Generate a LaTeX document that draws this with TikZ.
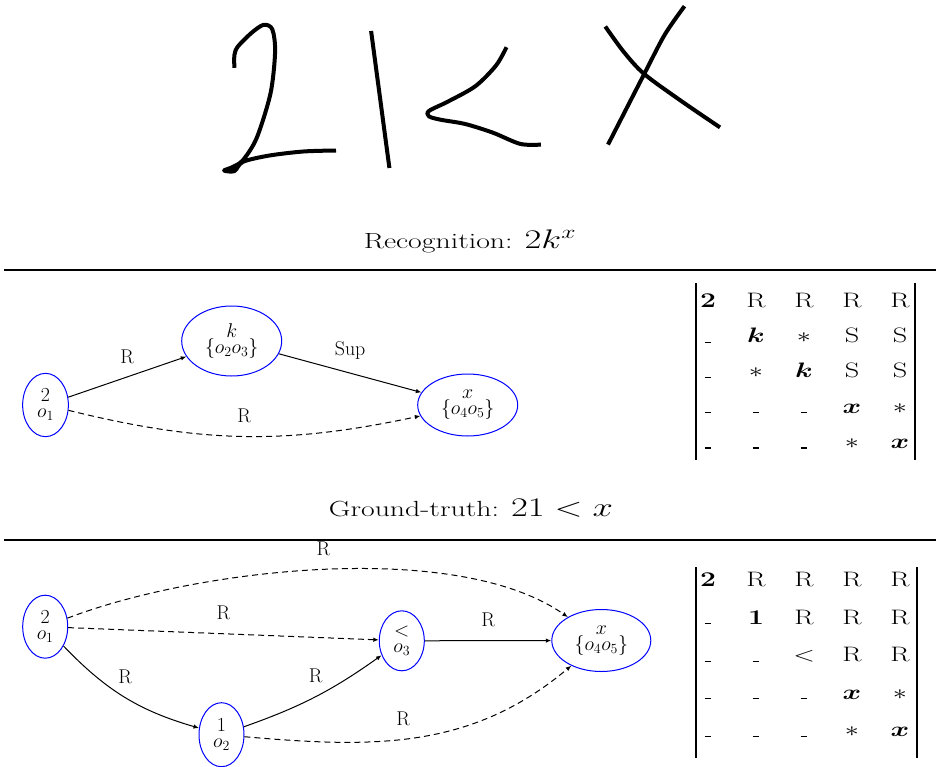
\RequirePackage{fix-cm}
\documentclass[tikz,border=0pt]{standalone}
\usepackage{amsmath,amssymb}
\usepackage{tikz}
\usetikzlibrary{arrows.meta,shapes.geometric}

\newcommand{\nodefont}{\fontsize{20}{16}\selectfont}
\newcommand{\cellfont}{\fontsize{21}{24}\selectfont}
\newcommand{\titlefont}{\fontsize{22}{26}\selectfont}
\newcommand{\titlemath}{\fontsize{27}{32}\selectfont}
\newcommand{\nullmark}{\rule{0.24em}{0.05em}}

\begin{document}
\begin{tikzpicture}[
          x=1bp, y=-1bp,
          obj/.style={draw=blue, line width=1bp, ellipse, inner sep=0pt, align=center, font=\nodefont},
          lbl/.style={font=\nodefont, inner sep=2bp, above=11bp},
          conn/.style={line width=1bp, -{Latex[length=5.5bp,width=4.5bp]}},
          dconn/.style={conn, dash pattern=on 6bp off 4bp},
          cell/.style={anchor=base, inner sep=0pt, xscale=1.35, font=\cellfont},
          title/.style={anchor=base, inner sep=0pt, xscale=1.36, font=\titlefont},
          hand/.style={line width=4bp, line join=round},
          bar/.style={line width=1.3bp},
          rule/.style={line width=1.5bp}
      ]
        \useasboundingbox (0,0) rectangle (938,767);

        % handwritten input
        \draw[hand] plot[smooth, tension=0.5] coordinates {(234.4,67.8) (234.4,55.1) (237.9,46.5) (251.7,32.7) (263.7,24.8) (272.3,29.3) (275.1,51.7) (270.6,93) (256.8,137.7) (243,160.1) (232.7,167) (224.1,170.5) (234.4,171.1) (243,161.8) (268.9,155.6) (303.3,151.5) (336,150.5)};
        \draw[hand] (371.1,31) -- (389.4,168);
        \draw[hand] plot[smooth, tension=0.5] coordinates {(506.5,47.2) (496.1,65.4) (475.5,86.1) (447.9,101.6) (429,110.9) (429,116.4) (441,119.8) (465.2,124) (492.7,132.6) (520.2,143.9) (540.9,144.6)};
        \draw[hand] plot[smooth, tension=0.5] coordinates {(684.5,6.2) (664.9,34.4) (644.2,74) (608,144.6)};
        \draw[hand] plot[smooth, tension=0.5] coordinates {(605.3,26.5) (623.6,51.7) (644.2,74) (682.1,101.6) (720,127.4)};

        % recognition
        \node[title] (rectitle) at (470,248) {Recognition: {\titlemath$2k^x$}};
        \draw[rule] (4,270) -- (936,270);

        \node[obj, minimum width=45.7bp, minimum height=63.3bp] (g1o1) at (45.5,405) {$2$\\$o_1$};
        \node[obj, minimum width=100bp, minimum height=70bp] (g1k) at (231.7,341) {$k$\\$\{o_2o_3\}$};
        \node[obj, minimum width=100bp, minimum height=62bp] (g1x) at (467.7,405) {$x$\\$\{o_4o_5\}$};
        \draw[conn] (g1o1) -- node[lbl] {R} (g1k);
        \draw[conn] (g1k) -- node[lbl] {Sup} (g1x);
        \draw[dconn] (g1o1) to[bend right=13] node[lbl] {R} (g1x);

        \foreach \row [count=\r] in {{\mathbf{2},\mathrm{R},\mathrm{R},\mathrm{R},\mathrm{R}},
            {\nullmark,\boldsymbol{k},*,\mathrm{S},\mathrm{S}},
            {\nullmark,*,\boldsymbol{k},\mathrm{S},\mathrm{S}},
            {\nullmark,\nullmark,\nullmark,\boldsymbol{x},*},
            {\nullmark,\nullmark,\nullmark,*,\boldsymbol{x}}}
          \foreach \e [count=\c] in \row
            \node[cell] (rec-\r-\c) at (660+48*\c, 272+35.3*\r) {$\e$};
        \draw[bar] (696,283) -- (696,460);
        \draw[bar] (915,283) -- (915,460);

        % ground truth
        \node[title] (gttitle) at (471,516) {Ground-truth: {\titlemath$21<x$}};
        \draw[rule] (4,540) -- (936,540);

        \node[obj, minimum width=45bp, minimum height=63bp] (g2o1) at (45.2,626.7) {$2$\\$o_1$};
        \node[obj, minimum width=45bp, minimum height=64bp] (g2o2) at (221.5,734.7) {$1$\\$o_2$};
        \node[obj, minimum width=45bp, minimum height=60bp] (g2o3) at (401.8,640.8) {$<$\\$o_3$};
        \node[obj, minimum width=99bp, minimum height=62bp] (g2x) at (601.3,640.5) {$x$\\$\{o_4o_5\}$};
        \draw[dconn] (g2o1) to[out=21, in=145, looseness=0.7] node[lbl] {R} (g2x);
        \draw[dconn] (g2o1) -- node[lbl] {R} (g2o3);
        \draw[conn] (g2o1) to[bend right=15] node[lbl] {R} (g2o2);
        \draw[conn] (g2o2) to[bend right=8] node[lbl] {R} (g2o3);
        \draw[conn] (g2o3) -- node[lbl] {R} (g2x);
        \draw[dconn] (g2o2) to[out=-5, in=-140] node[lbl, pos=0.45] {R} (g2x);

        \foreach \row [count=\r] in {{\mathbf{2},\mathrm{R},\mathrm{R},\mathrm{R},\mathrm{R}},
            {\nullmark,\mathbf{1},\mathrm{R},\mathrm{R},\mathrm{R}},
            {\nullmark,\nullmark,<,\mathrm{R},\mathrm{R}},
            {\nullmark,\nullmark,\nullmark,\boldsymbol{x},*},
            {\nullmark,\nullmark,\nullmark,*,\boldsymbol{x}}}
          \foreach \e [count=\c] in \row
            \node[cell] (gt-\r-\c) at (660+48*\c, 549.2+37.5*\r) {$\e$};
        \draw[bar] (696,567) -- (696,758);
        \draw[bar] (917,567) -- (917,758);
      \end{tikzpicture}
\end{document}
